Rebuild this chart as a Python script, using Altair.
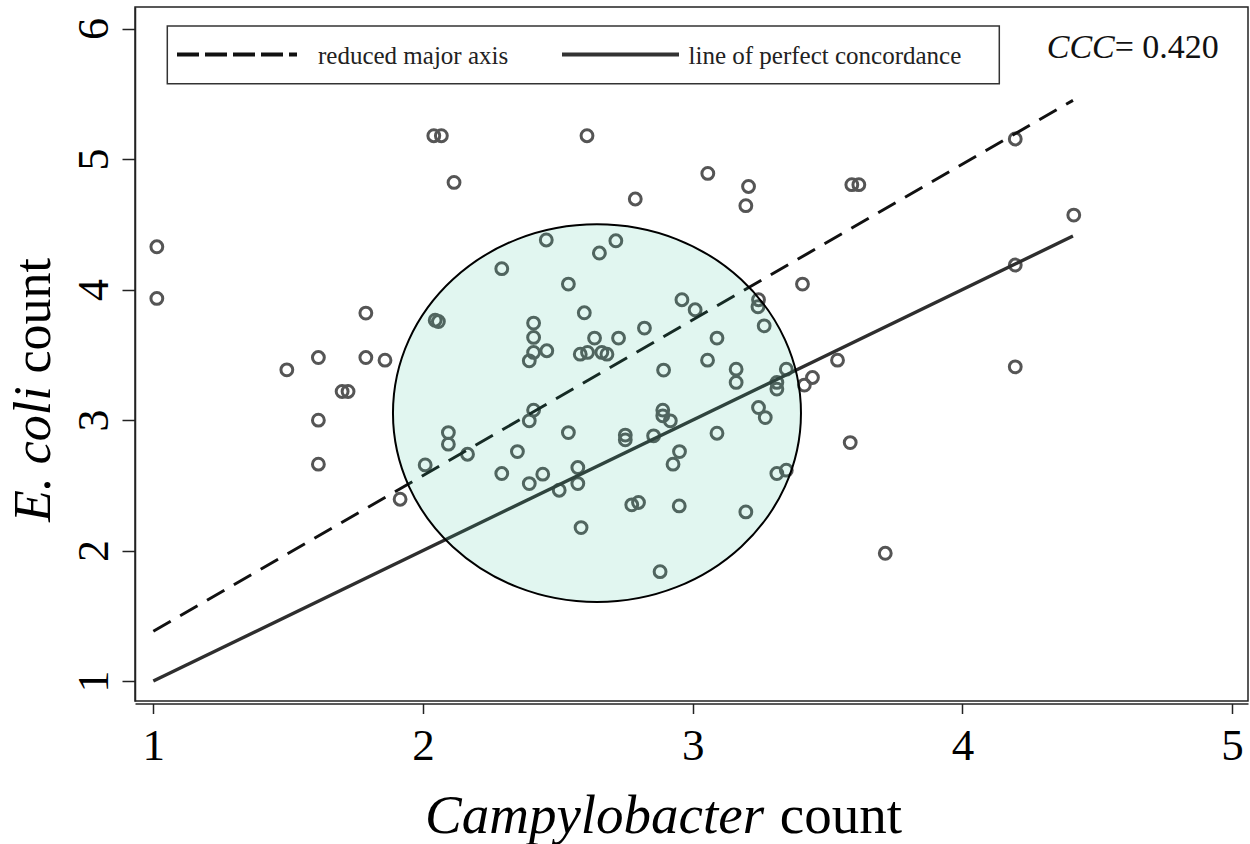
import altair as alt
import pandas as pd

# ---------------- data ----------------
campylobacter = [
    1.013, 1.013, 1.495, 1.612, 1.612, 1.612, 1.700, 1.722, 1.788, 1.788,
    1.859, 1.915, 2.008, 2.045, 2.057, 2.094, 2.094, 2.165, 2.115, 2.040,
    2.068, 2.608, 2.292, 2.457, 2.715, 2.654, 2.539, 2.787, 3.056, 3.207,
    3.197, 3.407, 2.598, 2.960, 3.009, 3.244, 3.242, 3.265, 2.410, 2.410,
    2.410, 2.394, 2.459, 2.636, 2.583, 2.610, 2.663, 2.682, 2.725, 2.821,
    3.090, 3.055, 2.892, 3.161, 3.161, 3.347, 3.312, 3.312, 3.414, 3.444,
    2.410, 2.394, 2.889, 2.889, 2.917, 3.244, 3.269, 2.539, 2.350, 2.750,
    2.750, 2.855, 3.090, 2.951, 2.927, 2.292, 2.444, 2.394, 2.574, 2.574,
    2.505, 3.312, 3.347, 2.774, 2.799, 2.950, 3.197, 2.586, 2.879, 4.196,
    3.590, 3.616, 4.413, 4.196, 3.537, 4.196, 3.584, 3.714,
]
ecoli = [
    4.328, 3.932, 3.385, 3.479, 2.999, 2.662, 3.219, 3.219, 3.820, 3.479,
    3.459, 2.393, 2.656, 3.765, 3.755, 2.904, 2.815, 2.738, 4.821, 5.179,
    5.179, 5.179, 4.160, 4.380, 4.374, 4.280, 4.042, 4.694, 4.890, 4.790,
    4.643, 4.042, 3.822, 3.922, 3.845, 3.922, 3.868, 3.722, 3.743, 3.633,
    3.518, 3.454, 3.531, 3.628, 3.505, 3.518, 3.518, 3.505, 3.628, 3.705,
    3.628, 3.459, 3.383, 3.390, 3.288, 3.390, 3.288, 3.237, 3.268, 3.326,
    3.076, 2.994, 3.076, 3.032, 2.994, 3.096, 3.019, 2.904, 2.758, 2.885,
    2.848, 2.879, 2.899, 2.758, 2.662, 2.590, 2.585, 2.513, 2.636, 2.513,
    2.462, 2.590, 2.616, 2.350, 2.368, 2.342, 2.296, 2.176, 1.838, 5.154,
    4.804, 4.804, 4.571, 4.188, 3.459, 3.408, 2.827, 1.979,
]

line_x = [1.0, 4.41]
rma_y = [1.381, 5.45]          # reduced major axis
concordance_y = [1.0, 4.41]    # line of perfect concordance

highlight_x = [2.645]
highlight_y = [3.053]

x_ticks = [1, 2, 3, 4, 5]
y_ticks = [1, 2, 3, 4, 5, 6]

legend_labels = ["reduced major axis", "line of perfect concordance"]
ccc_label = "CCC"
ccc_value = "= 0.420"
x_title = ["Campylobacter", "count"]
y_title = ["E. coli", "count"]

# ---------------- layout / style ----------------
FONT = "Liberation Serif"
W, H = 1113, 694
LEFT, TOP = 135, 7
X_DOM = [0.932, 5.059]
Y_DOM = [0.8467, 6.1655]

xs = alt.Scale(domain=X_DOM, nice=False, zero=False)
ys = alt.Scale(domain=Y_DOM, nice=False, zero=False)

x_axis = alt.Axis(values=x_ticks, format="d", title=None, grid=False,
                  labelFont=FONT, labelFontSize=45, labelColor="black",
                  labelBaseline="alphabetic", labelPadding=46,
                  labelFlush=False, labelOverlap=False,
                  tickSize=10, tickWidth=1.5, tickColor="#222",
                  domainColor="#222", domainWidth=1.5, offset=2.5)
y_axis = alt.Axis(values=y_ticks, format="d", title=None, grid=False,
                  labelFont=FONT, labelFontSize=44, labelColor="black",
                  labelAngle=270, labelAlign="center",
                  labelBaseline="alphabetic", labelPadding=15,
                  labelFlush=False, labelOverlap=False,
                  tickSize=13, tickWidth=1.5, tickColor="#222",
                  domainColor="#222", domainWidth=1.5)


def xy(xf, yf):
    return dict(x=alt.X(f"{xf}:Q", scale=xs, axis=x_axis),
                y=alt.Y(f"{yf}:Q", scale=ys, axis=y_axis))


pts = pd.DataFrame({"x": campylobacter, "y": ecoli})
lines = pd.DataFrame({"x": line_x, "rma": rma_y, "pc": concordance_y})
hl = pd.DataFrame({"x": highlight_x, "y": highlight_y})
one = pd.DataFrame({"k": [0]})

points = alt.Chart(pts).mark_point(
    shape="circle", filled=False, size=140, strokeWidth=3,
    color="#555555", opacity=1
).encode(**xy("x", "y"))

pc_line = alt.Chart(lines).mark_line(
    color="#2e2e2e", strokeWidth=3.4
).encode(**xy("x", "pc"))

rma_line = alt.Chart(lines).mark_line(
    color="#111111", strokeWidth=3, strokeDash=[20, 11]
).encode(**xy("x", "rma"))

ELLIPSE = "M -1 0 A 1 0.926 0 1 1 1 0 A 1 0.926 0 1 1 -1 0 Z"
highlight = alt.Chart(hl).mark_point(
    shape=ELLIPSE, size=408 ** 2, filled=True, fill="#37c39b",
    fillOpacity=0.15, stroke="black", strokeWidth=2, strokeOpacity=1,
    opacity=1
).encode(**xy("x", "y"))

# legend box
legend_box = alt.Chart(one).mark_rect(
    fill="white", stroke="#333333", strokeWidth=1.5
).encode(x=alt.value(167.3 - LEFT), x2=alt.value(999.3 - LEFT),
         y=alt.value(26 - TOP), y2=alt.value(83.8 - TOP))
leg_dash = alt.Chart(one).mark_rule(
    color="#111111", strokeWidth=4, strokeDash=[22, 6]
).encode(x=alt.value(177 - LEFT), x2=alt.value(297 - LEFT), y=alt.value(54.5 - TOP))
leg_solid = alt.Chart(one).mark_rule(
    color="#333333", strokeWidth=4
).encode(x=alt.value(562 - LEFT), x2=alt.value(679 - LEFT), y=alt.value(54.5 - TOP))
leg_t1 = alt.Chart(one).mark_text(
    align="left", baseline="alphabetic", font=FONT, fontSize=25, color="#222222",
    text=legend_labels[0]
).encode(x=alt.value(318 - LEFT), y=alt.value(64 - TOP))
leg_t2 = alt.Chart(one).mark_text(
    align="left", baseline="alphabetic", font=FONT, fontSize=25, color="#222222",
    text=legend_labels[1]
).encode(x=alt.value(688.5 - LEFT), y=alt.value(64 - TOP))

ccc1 = alt.Chart(one).mark_text(
    align="left", baseline="alphabetic", font=FONT, fontSize=34,
    fontStyle="italic", color="#111111", text=ccc_label
).encode(x=alt.value(1046.7 - LEFT), y=alt.value(58.3 - TOP))
ccc2 = alt.Chart(one).mark_text(
    align="left", baseline="alphabetic", font=FONT, fontSize=34,
    color="#111111", text=ccc_value
).encode(x=alt.value(1046.7 + 68 - LEFT), y=alt.value(58.3 - TOP))

# axis titles (mixed italic / upright)
xt1 = alt.Chart(one).mark_text(
    align="left", baseline="alphabetic", font=FONT, fontSize=55,
    fontStyle="italic", color="black", text=x_title[0]
).encode(x=alt.value(425 - LEFT), y=alt.value(833 - TOP))
xt2 = alt.Chart(one).mark_text(
    align="right", baseline="alphabetic", font=FONT, fontSize=55,
    color="black", text=x_title[1]
).encode(x=alt.value(902 - LEFT), y=alt.value(833 - TOP))
yt1 = alt.Chart(one).mark_text(
    align="left", baseline="alphabetic", font=FONT, fontSize=52, angle=270,
    fontStyle="italic", color="black", text=y_title[0]
).encode(x=alt.value(50 - LEFT), y=alt.value(522 - TOP))
yt2 = alt.Chart(one).mark_text(
    align="right", baseline="alphabetic", font=FONT, fontSize=52, angle=270,
    color="black", text=y_title[1]
).encode(x=alt.value(50 - LEFT), y=alt.value(258 - TOP))

chart = alt.layer(
    points, pc_line, rma_line, highlight,
    legend_box, leg_dash, leg_solid, leg_t1, leg_t2, ccc1, ccc2,
    xt1, xt2, yt1, yt2
).properties(
    width=W, height=H,
    padding={"left": LEFT, "top": TOP, "right": 1250 - LEFT - W, "bottom": 844 - TOP - H},
    autosize=alt.AutoSizeParams(type="none"),
    background="white",
).configure_view(
    stroke="#222222", strokeWidth=1.5
)

chart.save("out.html", embed_options={"renderer": "svg", "actions": False})
